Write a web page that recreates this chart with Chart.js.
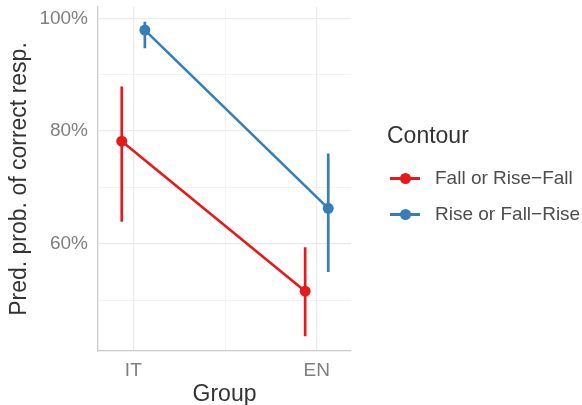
<!DOCTYPE html>
<html>
<head>
<meta charset="utf-8">
<script src="https://cdn.jsdelivr.net/npm/chart.js@4/dist/chart.umd.min.js"></script>
<style>
  html, body { margin: 0; padding: 0; background: #ffffff; }
  #wrap { position: relative; width: 582px; height: 405px; font-family: "Liberation Sans", Arial, sans-serif; }
  #chart { position: absolute; left: 0; top: 0; }
  #legend { position: absolute; left: 387px; top: 121px; color: #333333; }
  #legend .title { font-size: 23px; line-height: 28px; margin-bottom: 11px; }
  #legend .item { position: relative; height: 36px; font-size: 19px; line-height: 36px; padding-left: 48px; color: #4d4d4d; }
  #legend .key { position: absolute; left: 3px; top: 17px; width: 30px; height: 3px; }
  #legend .dot { position: absolute; left: 10px; top: -4px; width: 11px; height: 11px; border-radius: 50%; }
</style>
</head>
<body>
<div id="wrap">
  <canvas id="chart" width="582" height="405"></canvas>
  <div id="legend"></div>
</div>
<script>
// Groups on the x axis and the two contour types
const groups = ['IT', 'EN'];
const contours = ['Fall or Rise\u2212Fall', 'Rise or Fall\u2212Rise'];
const colors = ['#E41A1C', '#377EB8'];

// Predicted probability of a correct response (%), with interval bounds
const fallEst = [78.2, 51.6];
const fallLow = [63.9, 43.6];
const fallHigh = [87.9, 59.4];
const riseEst = [97.9, 66.3];
const riseLow = [94.7, 55.0];
const riseHigh = [99.4, 76.0];

// Axis ticks
const yMajor = [60, 80, 100];
const yMinor = [50, 70, 90];
const xPositions = [1, 2];

const dodge = 0.063;
const series = [
  { est: fallEst, low: fallLow, high: fallHigh, shift: -dodge },
  { est: riseEst, low: riseLow, high: riseHigh, shift: dodge }
];

const datasets = [];
// interval bars first so the points sit on top
series.forEach((s, i) => {
  const pts = [];
  groups.forEach((g, j) => {
    const x = xPositions[j] + s.shift;
    pts.push({ x: x, y: s.low[j] }, { x: x, y: s.high[j] });
    if (j < groups.length - 1) pts.push({ x: x, y: null });
  });
  datasets.push({
    label: contours[i] + ' interval',
    data: pts,
    borderColor: colors[i],
    borderWidth: 2.7,
    pointRadius: 0,
    spanGaps: false,
    fill: false,
    order: 2
  });
});
series.forEach((s, i) => {
  datasets.push({
    label: contours[i],
    data: groups.map((g, j) => ({ x: xPositions[j] + s.shift, y: s.est[j] })),
    borderColor: colors[i],
    backgroundColor: colors[i],
    borderWidth: 2.6,
    pointRadius: 5.5,
    pointHoverRadius: 5.5,
    pointBorderWidth: 0,
    pointBackgroundColor: colors[i],
    fill: false,
    order: 1
  });
});

const tickFont = { family: '"Liberation Sans", Arial, sans-serif', size: 19 };
const titleFont = { family: '"Liberation Sans", Arial, sans-serif', size: 23 };

new Chart(document.getElementById('chart'), {
  type: 'line',
  data: { datasets: datasets },
  options: {
    responsive: false,
    animation: false,
    devicePixelRatio: 1,
    layout: { padding: { top: 7, right: 231, left: 0, bottom: 0 } },
    plugins: { legend: { display: false }, tooltip: { enabled: false } },
    scales: {
      x: {
        type: 'linear',
        min: 0.8075,
        max: 2.187,
        afterBuildTicks: (scale) => {
          scale.ticks = [1, 1.5, 2].map(v => ({ value: v }));
        },
        afterFit: (scale) => {
          scale.height = 54;
          scale.paddingLeft = 0;
          scale.paddingRight = 0;
        },
        ticks: {
          autoSkip: false,
          maxRotation: 0,
          padding: 8,
          color: '#7f7f7f',
          font: tickFont,
          callback: (v) => {
            const k = xPositions.indexOf(v);
            return k >= 0 ? groups[k] : '';
          }
        },
        grid: {
          drawTicks: false,
          color: '#ebebeb',
          lineWidth: (ctx) => (ctx.tick && xPositions.includes(ctx.tick.value) ? 1.2 : 0.6)
        },
        border: { display: true, color: '#cccccc', width: 1.3 },
        title: { display: true, text: 'Group', color: '#333333', font: titleFont, padding: { top: 0, bottom: -3 } }
      },
      y: {
        type: 'linear',
        min: 41,
        max: 102,
        afterBuildTicks: (scale) => {
          scale.ticks = yMinor.concat(yMajor).sort((a, b) => a - b).map(v => ({ value: v }));
        },
        afterFit: (scale) => {
          scale.width = 98;
          scale.paddingTop = 0;
          scale.paddingBottom = 0;
        },
        ticks: {
          autoSkip: false,
          padding: 10,
          color: '#7f7f7f',
          font: tickFont,
          callback: (v) => (yMajor.includes(v) ? v + '%' : '')
        },
        grid: {
          drawTicks: false,
          color: '#ebebeb',
          lineWidth: (ctx) => (ctx.tick && yMajor.includes(ctx.tick.value) ? 1.2 : 0.6)
        },
        border: { display: true, color: '#cccccc', width: 1.3 },
        title: { display: true, text: 'Pred. prob. of correct resp.', color: '#333333', font: titleFont, padding: { top: 6, bottom: 0 } }
      }
    }
  }
});

// Legend
const legend = document.getElementById('legend');
const head = document.createElement('div');
head.className = 'title';
head.textContent = 'Contour';
legend.appendChild(head);
contours.forEach((name, i) => {
  const item = document.createElement('div');
  item.className = 'item';
  const key = document.createElement('div');
  key.className = 'key';
  key.style.background = colors[i];
  const dot = document.createElement('div');
  dot.className = 'dot';
  dot.style.background = colors[i];
  key.appendChild(dot);
  item.appendChild(key);
  item.appendChild(document.createTextNode(name));
  legend.appendChild(item);
});
</script>
</body>
</html>
